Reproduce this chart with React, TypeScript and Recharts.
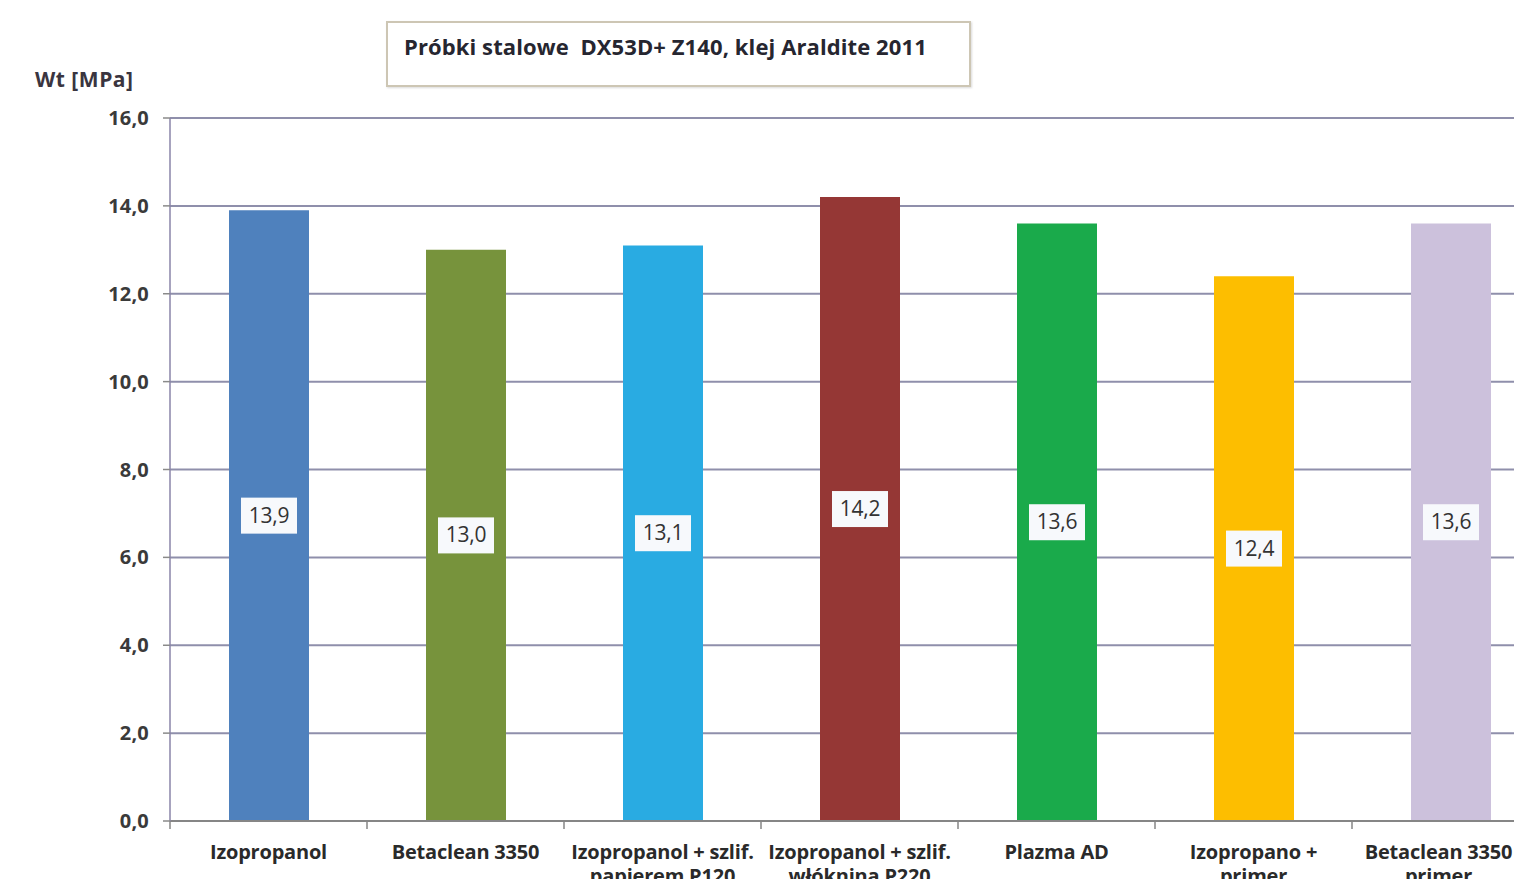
import React from 'react';
import { BarChart, Bar, XAxis, YAxis, CartesianGrid, Cell, LabelList } from 'recharts';

const categories = [
  'Izopropanol',
  'Betaclean 3350',
  'Izopropanol + szlif.',
  'Izopropanol + szlif.',
  'Plazma AD',
  'Izopropano +',
  'Betaclean 3350',
];
const secondLines = ['', '', 'papierem P120', 'włókniną P220', '', 'primer', 'primer'];
const values = [13.9, 13.0, 13.1, 14.2, 13.6, 12.4, 13.6];
const colors = ['#4f81bd', '#77933c', '#29abe2', '#953735', '#1aaa4b', '#fdbe00', '#ccc1dc'];
const yTicks = [0, 2, 4, 6, 8, 10, 12, 14, 16];
const title = 'Próbki stalowe  DX53D+ Z140, klej Araldite 2011';
const yLabel = 'Wt [MPa]';

const data = categories.map((c, i) => ({ name: c, line2: secondLines[i], value: values[i], idx: i }));

const FONT = '"Open Sans", Lato, sans-serif';
const fmt = (v: number) => v.toFixed(1).replace('.', ',');

const XTick = (props: any) => {
  const { x, y, payload, index } = props;
  const off = payload?.offset ?? 0;
  const d = data[index] || data.find((r) => r.name === payload.value);
  const isLast = index === data.length - 1;
  const tx = isLast ? x - 12 : x;
  return (
    <g>
      <line x1={x - off} x2={x - off} y1={y} y2={y + 8} stroke="#868686" strokeWidth={1.5} />
      {isLast && (
        <line x1={x + off} x2={x + off} y1={y} y2={y + 8} stroke="#868686" strokeWidth={1.5} />
      )}
      <text x={tx} y={y + 38} textAnchor="middle" fontFamily={FONT} fontWeight={700} fontSize={20} letterSpacing={-0.2} fill="#2a2a2a">
        {payload.value}
      </text>
      {d && d.line2 ? (
        <text x={tx} y={y + 62} textAnchor="middle" fontFamily={FONT} fontWeight={700} fontSize={20} letterSpacing={-0.2} fill="#2a2a2a">
          {d.line2}
        </text>
      ) : null}
    </g>
  );
};

const ValueLabel = (props: any) => {
  const { x, y, width, height, value } = props;
  const cx = x + width / 2;
  const cy = y + height / 2;
  const w = 56;
  const h = 36;
  return (
    <g>
      <rect x={cx - w / 2} y={cy - h / 2} width={w} height={h} fill="#f7f9fc" />
      <text x={cx} y={cy + 7} textAnchor="middle" fontFamily={FONT} fontSize={21} letterSpacing={-0.3} fill="#333">
        {fmt(value)}
      </text>
    </g>
  );
};

export default function App() {
  return (
    <div
      style={{
        position: 'fixed',
        left: 0,
        top: 0,
        width: 1514,
        height: 879,
        overflow: 'hidden',
        background: '#fff',
      }}
    >
      <div
        style={{
          position: 'absolute',
          left: 386,
          top: 21,
          width: 581,
          height: 62,
          border: '2px solid #cdc6b4',
          boxSizing: 'content-box',
          boxShadow: '1px 1px 2px rgba(0,0,0,0.15)',
        }}
      />
      <div
        style={{
          position: 'absolute',
          left: 404,
          top: 31,
          fontFamily: FONT,
          fontWeight: 700,
          fontSize: 22,
          letterSpacing: 0.1,
          whiteSpace: 'pre',
          color: '#262630',
          lineHeight: '30px',
        }}
      >
        {title}
      </div>
      <div
        style={{
          position: 'absolute',
          left: 35,
          top: 65,
          fontFamily: FONT,
          fontWeight: 700,
          fontSize: 21,
          letterSpacing: 0.5,
          whiteSpace: 'pre',
          color: '#3a3540',
          lineHeight: '28px',
        }}
      >
        {yLabel}
      </div>
      <div style={{ position: 'absolute', left: 0, top: 0 }}>
        <BarChart
          width={1600}
          height={900}
          data={data}
          margin={{ top: 118, right: 51, bottom: 19, left: 0 }}
          barSize={80}
        >
          <CartesianGrid horizontal vertical={false} stroke="#8f8fab" strokeWidth={2} />
          <XAxis
            dataKey="name"
            height={60}
            tickSize={0}
            tickMargin={0}
            tickLine={false}
            axisLine={{ stroke: '#868686', strokeWidth: 2 }}
            tick={<XTick />}
            interval={0}
          />
          <YAxis
            width={170}
            domain={[0, 16]}
            ticks={yTicks}
            tickFormatter={fmt}
            tickSize={7}
            tickMargin={14}
            axisLine={{ stroke: '#8a84a8', strokeWidth: 1.5 }}
            tickLine={{ stroke: '#8a8a8a', strokeWidth: 1.5 }}
            tick={{ fontFamily: FONT, fontWeight: 700, fontSize: 20, letterSpacing: 0.2, fill: '#3a3a3a' }}
            interval={0}
          />
          <Bar dataKey="value" isAnimationActive={false}>
            {data.map((d, i) => (
              <Cell key={i} fill={colors[i]} />
            ))}
            <LabelList dataKey="value" content={<ValueLabel />} />
          </Bar>
        </BarChart>
      </div>
    </div>
  );
}
